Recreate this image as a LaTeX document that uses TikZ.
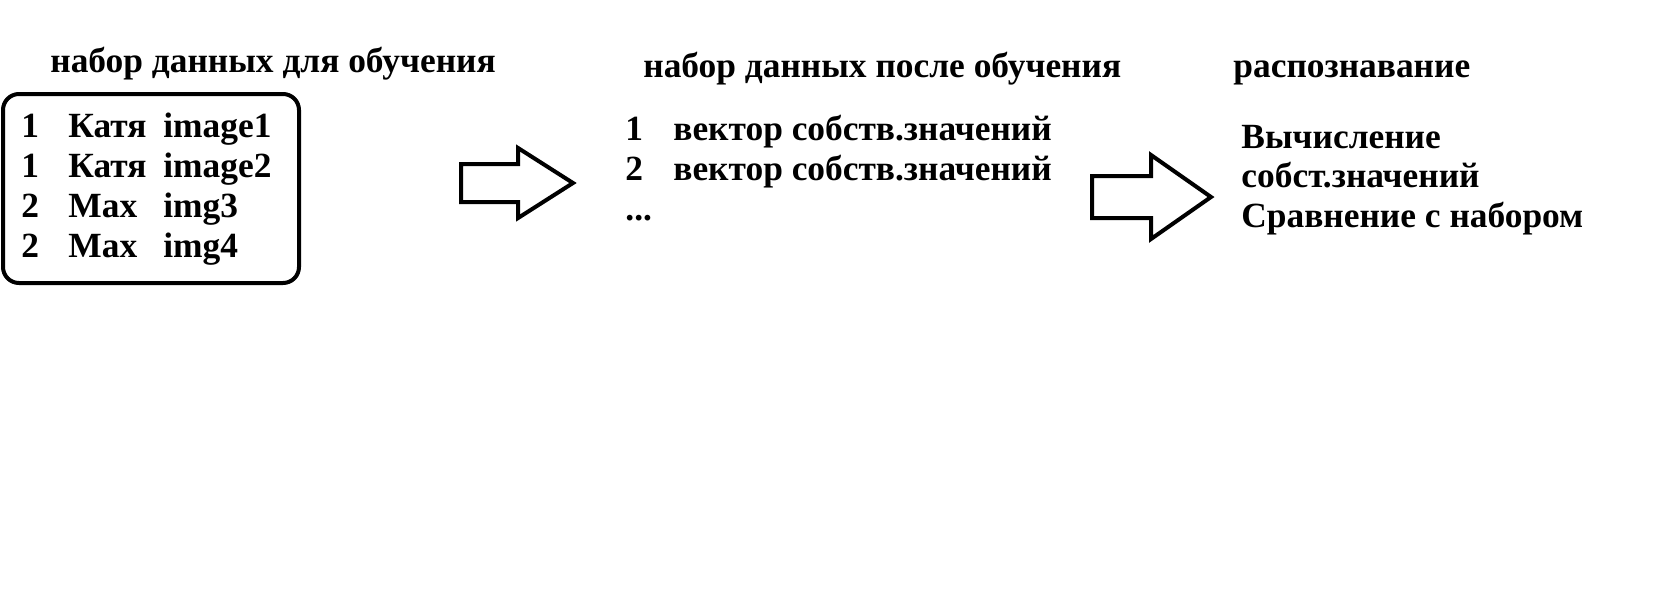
\documentclass[tikz,border=0pt]{standalone}
\usepackage{fontspec}
\setmainfont{Liberation Serif}
\usetikzlibrary{shapes.arrows, positioning}

\begin{document}
\begin{tikzpicture}[
        x=0.5pt, y=-0.5pt,
        lbl/.style={anchor=base west, inner sep=0pt, font=\fontsize{17.7}{21}\selectfont\bfseries},
        databox/.style={draw, line width=2pt, rounded corners=8pt, minimum width=148pt, minimum height=94.5pt},
        blockarrow/.style={single arrow, draw, line width=2pt, anchor=tail, inner xsep=0pt, text height=0pt, text depth=0pt}
    ]
        \useasboundingbox (0,0) rectangle (1664,600);

        % Training set
        \node[lbl] (trainTitle) at (50,72) {набор данных для обучения};
        \node[databox] (train) at (151,188.5) {};
        \node[lbl] (id1) at (21,137) {1};
        \node[lbl] (name1) at (68,137) {Катя};
        \node[lbl] (img1) at (163,137) {image1};
        \node[lbl] (id2) at (21,177) {1};
        \node[lbl] (name2) at (68,177) {Катя};
        \node[lbl] (img2) at (163,177) {image2};
        \node[lbl] (id3) at (21,217) {2};
        \node[lbl] (name3) at (68,217) {Max};
        \node[lbl] (img3) at (163,217) {img3};
        \node[lbl] (id4) at (21,257) {2};
        \node[lbl] (name4) at (68,257) {Max};
        \node[lbl] (img4) at (163,257) {img4};

        % After training
        \node[lbl] (learnedTitle) at (643,77) {набор данных после обучения};
        \node[lbl] (vid1) at (625,140) {1};
        \node[lbl] (vec1) at (673,140) {вектор собств.значений};
        \node[lbl] (vid2) at (625,180) {2};
        \node[lbl] (vec2) at (673,180) {вектор собств.значений};
        \node[lbl] (more) at (625,220) {...};

        % Recognition
        \node[lbl] (recogTitle) at (1233,77) {распознавание};
        \node[lbl] (step1) at (1241,148) {Вычисление};
        \node[lbl] (step2) at (1241,187) {собст.значений};
        \node[lbl] (step3) at (1241,227) {Сравнение с набором};

        % Block arrows
        \node[blockarrow, inner ysep=8.5pt, single arrow head extend=8pt, single arrow tip angle=65, minimum height=56pt] (arrA) at (459,183) {};
        \node[blockarrow, inner ysep=9.5pt, single arrow head extend=10.5pt, single arrow tip angle=70, minimum height=59.5pt] (arrB) at (1090,197) {};
    \end{tikzpicture}
\end{document}
